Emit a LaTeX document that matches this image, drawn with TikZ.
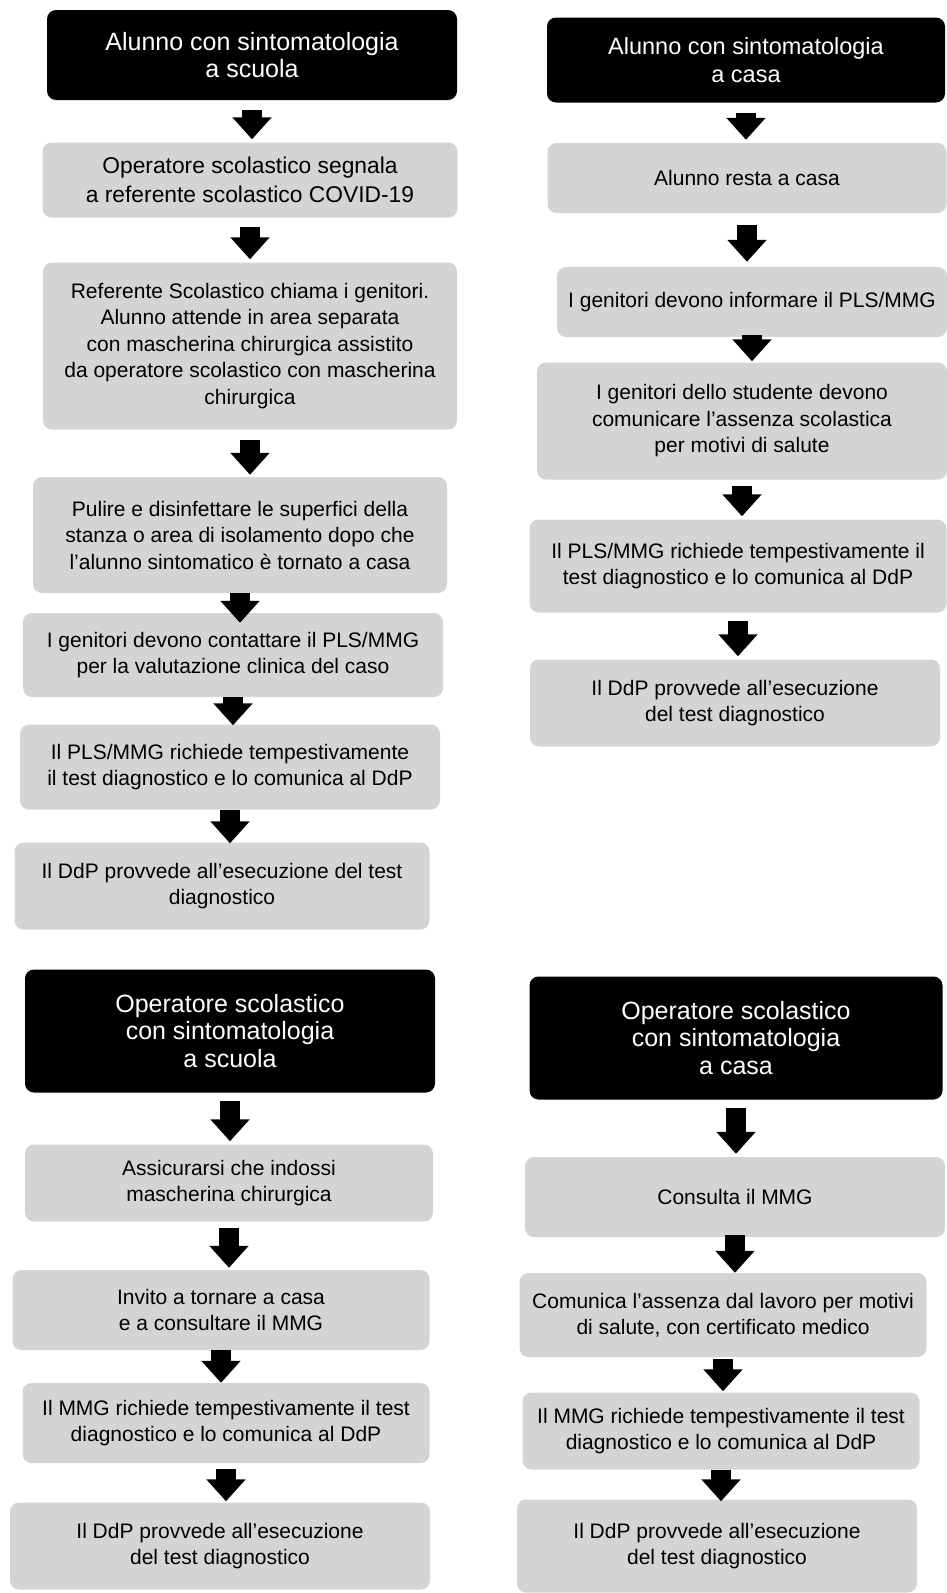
\documentclass[tikz,border=0pt]{standalone}
\usepackage{fontspec}
\setmainfont{Liberation Sans}
\usetikzlibrary{arrows.meta}
\definecolor{boxgray}{RGB}{212,212,212}
\tikzset{
  headbox/.style={fill=black, text=white, rounded corners=9pt, align=center, inner sep=0pt,
    font=\fontsize{25pt}{27.5pt}\selectfont},
  graybox/.style={fill=boxgray, text=black, rounded corners=9pt, align=center, inner sep=0pt,
    font=\fontsize{21pt}{26.5pt}\selectfont},
  flowarrow/.style={line width=20pt, -{Triangle[width=38pt,length=22pt]}, black},
}
\newcommand{\bx}[6]{\node[#1, minimum width=#4pt, minimum height=#5pt] (#2) at (#3) {#6};}
\begin{document}
\begin{tikzpicture}[x=1pt,y=-1pt]
\useasboundingbox (0,0) rectangle (947,1593);
% left column
\bx{headbox}{L1}{252,55}{410}{90}{Alunno con sintomatologia\\a scuola}
\bx{graybox, font=\fontsize{22.8pt}{29pt}\selectfont}{L2}{250,180}{415}{75}{Operatore scolastico segnala\\a referente scolastico COVID-19}
\bx{graybox}{L3}{250,346}{414}{167}{Referente Scolastico chiama i genitori.\\Alunno attende in area separata\\con mascherina chirurgica assistito\\da operatore scolastico con mascherina\\chirurgica}
\bx{graybox}{L4}{240,535}{414}{116}{Pulire e disinfettare le superfici della\\stanza o area di isolamento dopo che\\l'alunno sintomatico è tornato a casa}
\bx{graybox}{L5}{233,655}{420}{84}{I genitori devono contattare il PLS/MMG\\per la valutazione clinica del caso}
\bx{graybox}{L6}{230,767}{420}{85}{Il PLS/MMG richiede tempestivamente\\il test diagnostico e lo comunica al DdP}
\bx{graybox}{L7}{222,886}{415}{87}{Il DdP provvede all'esecuzione del test\\diagnostico}
\bx{headbox}{L8}{230,1031}{410}{123}{Operatore scolastico\\con sintomatologia\\a scuola}
\bx{graybox}{L9}{229,1183}{408}{77}{Assicurarsi che indossi\\mascherina chirurgica}
\bx{graybox}{L10}{221,1310}{417}{80}{Invito a tornare a casa\\e a consultare il MMG}
\bx{graybox}{L11}{226,1423}{407}{80}{Il MMG richiede tempestivamente il test\\diagnostico e lo comunica al DdP}
\bx{graybox}{L12}{220,1546}{420}{87}{Il DdP provvede all'esecuzione\\del test diagnostico}
% right column
\bx{headbox, font=\fontsize{23.5pt}{27.5pt}\selectfont}{R1}{746,60}{398}{85}{Alunno con sintomatologia\\a casa}
\bx{graybox}{R2}{747,178}{399}{70}{Alunno resta a casa}
\bx{graybox}{R3}{752,302}{390}{70}{I genitori devono informare il PLS/MMG}
\bx{graybox}{R4}{742,421}{410}{117}{I genitori dello studente devono\\comunicare l'assenza scolastica\\per motivi di salute}
\bx{graybox}{R5}{738,566}{417}{93}{Il PLS/MMG richiede tempestivamente il\\test diagnostico e lo comunica al DdP}
\bx{graybox}{R6}{735,703}{410}{87}{Il DdP provvede all'esecuzione\\del test diagnostico}
\bx{headbox}{R7}{736,1038}{413}{123}{Operatore scolastico\\con sintomatologia\\a casa}
\bx{graybox}{R8}{735,1197}{420}{80}{Consulta il MMG}
\bx{graybox}{R9}{723,1315}{407}{84}{Comunica l'assenza dal lavoro per motivi\\di salute, con certificato medico}
\bx{graybox}{R10}{721,1431}{397}{77}{Il MMG richiede tempestivamente il test\\diagnostico e lo comunica al DdP}
\bx{graybox}{R11}{717,1546}{400}{93}{Il DdP provvede all'esecuzione\\del test diagnostico}
% arrows left
\draw[flowarrow] ([yshift=-10pt]L1.south) -- ([yshift=3pt]L1.south |- L2.north);
\draw[flowarrow] ([yshift=-9pt]L2.south) -- ([yshift=3pt]L2.south |- L3.north);
\draw[flowarrow] ([yshift=-10pt]L3.south) -- ([yshift=2pt]L3.south |- L4.north);
\draw[flowarrow] (L4.south) -- ([yshift=-10pt]L4.south |- L5.north);
\draw[flowarrow] (L5.south) -- ([yshift=-1pt]L5.south |- L6.north);
\draw[flowarrow] (L6.south) -- ([yshift=-1pt]L6.south |- L7.north);
\draw[flowarrow] ([yshift=-8pt]L8.south) -- ([yshift=3pt]L8.south |- L9.north);
\draw[flowarrow] ([yshift=-6pt]L9.south) -- ([yshift=2pt]L9.south |- L10.north);
\draw[flowarrow] (L10.south) -- (L10.south |- L11.north);
\draw[flowarrow] ([yshift=-6pt]L11.south) -- ([yshift=1pt]L11.south |- L12.north);
% arrows right
\draw[flowarrow] ([yshift=-10pt]R1.south) -- ([yshift=3pt]R1.south |- R2.north);
\draw[flowarrow] ([yshift=-12pt]R2.south) -- ([yshift=5pt]R2.south |- R3.north);
\draw[flowarrow] ([yshift=2pt]R3.south) -- ([yshift=1pt]R3.south |- R4.north);
\draw[flowarrow] ([yshift=-6pt]R4.south) -- ([yshift=3pt]R4.south |- R5.north);
\draw[flowarrow] ([yshift=-8pt]R5.south) -- ([yshift=3pt]R5.south |- R6.north);
\draw[flowarrow] ([yshift=-8pt]R7.south) -- ([yshift=3pt]R7.south |- R8.north);
\draw[flowarrow] ([yshift=2pt]R8.south) -- (R8.south |- R9.north);
\draw[flowarrow] ([yshift=-2pt]R9.south) -- ([yshift=1pt]R9.south |- R10.north);
\draw[flowarrow] (R10.south) -- ([yshift=-2pt]R10.south |- R11.north);
\end{tikzpicture}
\end{document}
